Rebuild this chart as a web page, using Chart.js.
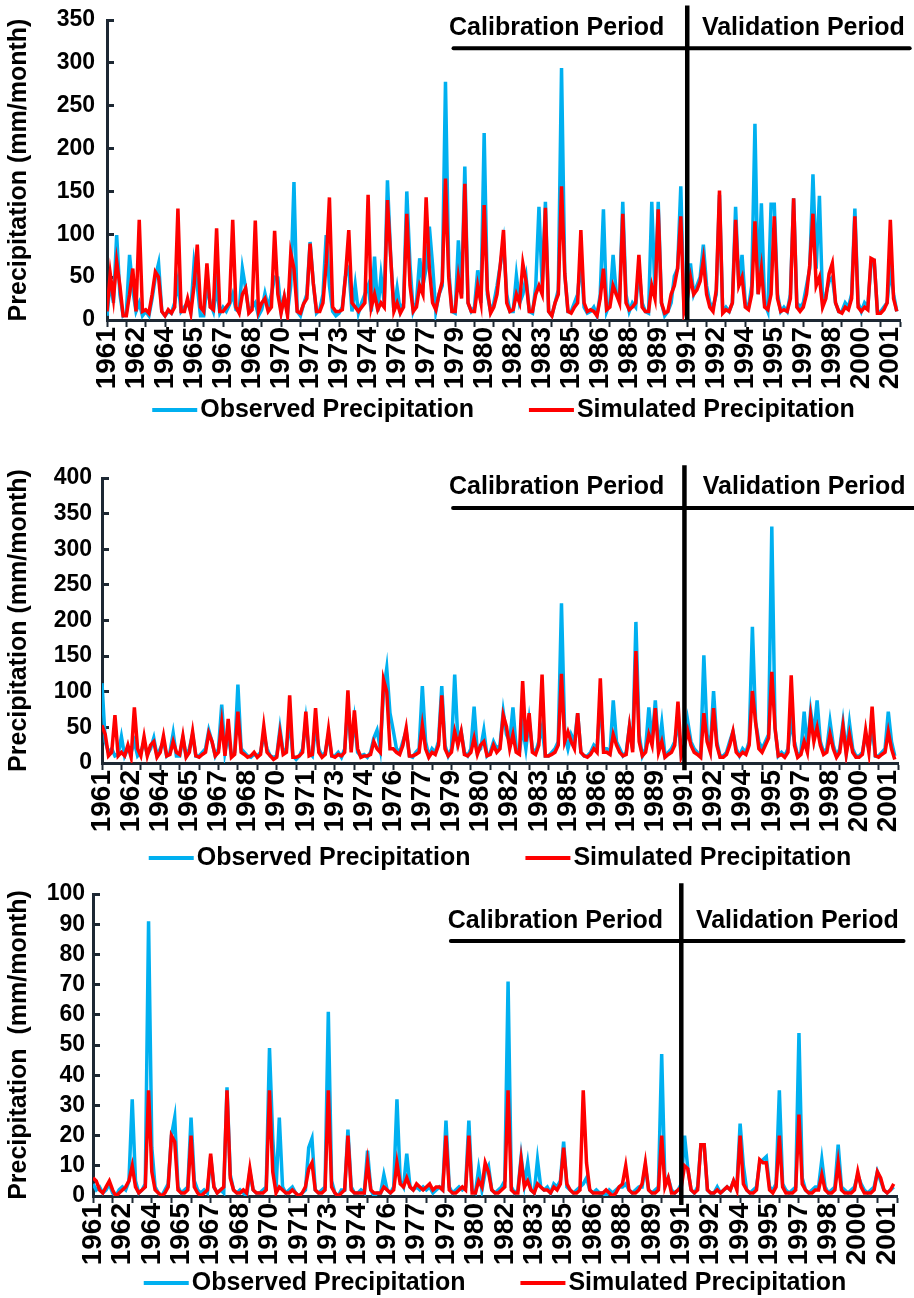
<!DOCTYPE html>
<html>
<head>
<meta charset="utf-8">
<script src="https://cdn.jsdelivr.net/npm/chart.js@4.4.1/dist/chart.umd.min.js"></script>
<style>
  html, body { margin: 0; padding: 0; background: #fff; }
  body { width: 914px; height: 1298px; position: relative; overflow: hidden; }
  .panel { position: absolute; left: 0; width: 914px; }
</style>
</head>
<body>
<div class="panel" style="top:0;height:445px"><canvas id="chart-a"></canvas></div>
<div class="panel" style="top:445px;height:430px"><canvas id="chart-b"></canvas></div>
<div class="panel" style="top:875px;height:423px"><canvas id="chart-c"></canvas></div>
<script>
// Labels shown every 18 months on the x axis
const yearLabels = ['1961', '1962', '1964', '1965', '1967', '1968', '1970', '1971', '1973', '1974',
    '1976', '1977', '1979', '1980', '1982', '1983', '1985', '1986', '1988', '1989',
    '1991', '1992', '1994', '1995', '1997', '1998', '2000', '2001'];

// Values, one value per two months, one row per year (1961-2001)
const observedA = [
    5, 45, 20, 99, 30, 5,   8, 76, 35, 10, 20, 5,   10, 5, 25, 50, 66, 10,   5, 10, 8, 20, 45, 10,
    15, 20, 10, 66, 40, 5,   5, 40, 20, 10, 40, 8,   15, 10, 18, 30, 12, 10,   60, 37, 10, 15, 20, 5,
    12, 31, 15, 30, 50, 49,   10, 27, 8, 40, 161, 10,   5, 19, 30, 91, 43, 8,   12, 30, 99, 40, 10, 5,
    8, 15, 52, 60, 10, 41,   8, 20, 30, 40, 10, 74,   10, 52, 20, 163, 74, 10,   37, 10, 20, 150, 64, 10,
    20, 72, 40, 60, 109, 64,   10, 30, 40, 278, 60, 10,   8, 93, 30, 179, 20, 10,   15, 58, 20, 218, 30, 10,
    20, 40, 64, 90, 30, 10,   10, 52, 20, 30, 50, 10,   8, 39, 132, 40, 138, 10,   5, 20, 35, 294, 54, 10,
    10, 20, 30, 70, 15, 8,   10, 15, 5, 30, 129, 10,   20, 76, 30, 25, 138, 30,   10, 20, 15, 60, 20, 10,
    8, 138, 30, 138, 20, 5,   10, 20, 51, 60, 156, 10,   20, 66, 30, 40, 50, 88,   40, 20, 15, 30, 146, 10,
    15, 10, 20, 132, 40, 76,   20, 15, 40, 229, 30, 136,   20, 10, 135, 135, 30, 10,   15, 10, 30, 142, 20, 15,
    20, 40, 60, 170, 60, 145,   20, 30, 45, 50, 20, 10,   10, 20, 15, 30, 130, 20,   10, 20, 15, 65, 68, 10,
    10, 15, 20, 60, 30, 10
];
const simulatedA = [
    10, 54, 25, 68, 40, 5,   5, 30, 60, 10, 117, 10,   12, 8, 30, 56, 50, 10,   5, 12, 8, 15, 130, 10,
    10, 25, 8, 40, 88, 15,   10, 66, 15, 12, 107, 10,   10, 15, 20, 117, 15, 8,   30, 37, 8, 12, 116, 10,
    20, 25, 10, 15, 104, 30,   8, 27, 5, 78, 60, 10,   8, 19, 25, 89, 43, 10,   10, 20, 66, 143, 15, 10,
    10, 12, 52, 105, 20, 15,   10, 15, 20, 146, 15, 30,   12, 20, 15, 140, 74, 10,   20, 8, 15, 124, 40, 10,
    15, 40, 30, 143, 60, 20,   12, 30, 45, 165, 50, 10,   10, 50, 25, 159, 20, 10,   10, 40, 20, 134, 35, 8,
    15, 30, 64, 105, 20, 10,   12, 30, 20, 66, 45, 10,   10, 30, 40, 30, 131, 10,   5, 20, 30, 156, 54, 10,
    8, 15, 20, 105, 20, 10,   12, 10, 5, 25, 60, 12,   15, 40, 30, 20, 124, 20,   12, 15, 20, 76, 15, 10,
    10, 40, 25, 129, 20, 8,   10, 30, 40, 60, 121, 10,   25, 50, 30, 35, 45, 70,   30, 15, 10, 35, 151, 8,
    12, 10, 20, 117, 40, 50,   15, 12, 30, 115, 30, 60,   15, 12, 30, 121, 25, 10,   12, 10, 25, 142, 15, 10,
    15, 30, 64, 124, 40, 50,   15, 25, 54, 66, 20, 10,   8, 15, 12, 25, 121, 15,   10, 15, 12, 72, 70, 8,
    8, 12, 20, 117, 25, 10
];

const observedB = [
    112, 30, 15, 20, 10, 12,   37, 10, 20, 15, 30, 10,   15, 30, 12, 20, 35, 10,   20, 30, 10, 15, 42, 10,
    10, 35, 10, 20, 40, 10,   10, 15, 20, 46, 30, 10,   20, 82, 15, 40, 10, 15,   110, 20, 15, 10, 8, 12,
    10, 15, 40, 20, 10, 8,   10, 48, 15, 20, 60, 10,   5, 10, 20, 60, 15, 10,   50, 20, 10, 15, 40, 10,
    10, 15, 8, 20, 80, 20,   60, 15, 10, 12, 8, 15,   35, 46, 20, 100, 133, 70,   46, 20, 15, 30, 45, 10,
    8, 15, 20, 108, 30, 10,   20, 15, 30, 108, 25, 10,   20, 124, 30, 44, 15, 10,   20, 79, 15, 20, 46, 10,
    15, 30, 20, 25, 72, 40,   30, 78, 20, 15, 50, 20,   60, 20, 15, 30, 50, 10,   10, 15, 20, 30, 224, 40,
    20, 40, 30, 70, 15, 10,   10, 15, 25, 20, 90, 20,   20, 15, 88, 30, 20, 10,   15, 51, 20, 198, 40, 10,
    20, 78, 30, 88, 20, 56,   10, 15, 20, 30, 60, 10,   20, 59, 30, 20, 15, 10,   151, 40, 20, 101, 30, 10,
    10, 15, 30, 44, 20, 10,   20, 15, 30, 191, 57, 30,   20, 30, 40, 332, 49, 10,   15, 10, 20, 60, 30, 10,
    15, 72, 20, 73, 40, 88,   30, 15, 20, 58, 25, 10,   20, 57, 15, 56, 20, 10,   10, 15, 40, 20, 50, 10,
    10, 15, 20, 72, 30, 10
];
const simulatedB = [
    53, 40, 10, 15, 67, 10,   15, 10, 25, 8, 78, 20,   10, 37, 10, 25, 30, 8,   15, 38, 10, 12, 30, 15,
    12, 38, 8, 15, 44, 10,   8, 12, 15, 42, 30, 10,   15, 56, 10, 62, 8, 12,   72, 15, 12, 8, 10, 15,
    8, 12, 52, 15, 10, 5,   8, 42, 12, 15, 95, 8,   8, 10, 15, 72, 10, 12,   77, 15, 8, 12, 47, 10,
    8, 12, 10, 15, 102, 15,   74, 20, 8, 10, 10, 12,   30, 20, 15, 117, 100, 20,   20, 15, 12, 25, 49, 10,
    10, 12, 15, 53, 20, 8,   15, 12, 25, 95, 20, 10,   15, 44, 25, 44, 12, 10,   15, 35, 12, 25, 30, 10,
    12, 25, 15, 20, 67, 51,   20, 40, 15, 12, 115, 30,   70, 15, 12, 25, 124, 10,   10, 12, 15, 25, 125, 30,
    44, 30, 20, 70, 15, 10,   8, 12, 20, 15, 119, 15,   15, 12, 40, 25, 15, 10,   12, 51, 15, 157, 30, 10,
    15, 40, 25, 77, 15, 30,   8, 12, 15, 25, 86, 10,   25, 45, 25, 15, 12, 8,   70, 30, 15, 77, 25, 8,
    8, 12, 25, 44, 15, 10,   15, 12, 25, 101, 57, 20,   15, 25, 35, 128, 49, 10,   12, 8, 15, 123, 25, 8,
    12, 30, 15, 65, 30, 50,   25, 12, 15, 40, 20, 8,   15, 51, 12, 40, 15, 8,   8, 12, 46, 15, 79, 10,
    8, 12, 15, 44, 20, 5
];

const observedC = [
    4, 2, 3, 1, 2, 4,   1, 0, 2, 3, 2, 5,   32, 5, 1, 2, 4, 91,   16, 3, 1, 0, 2, 4,
    20, 26, 3, 1, 2, 3,   26, 5, 2, 1, 2, 1,   13, 3, 1, 2, 1, 36,   7, 2, 1, 2, 1, 0,
    8, 2, 1, 1, 2, 3,   49, 19, 2, 26, 3, 1,   2, 3, 1, 0, 1, 2,   16, 19, 2, 1, 2, 3,
    61, 5, 1, 0, 2, 2,   22, 3, 1, 1, 2, 1,   15, 2, 0, 1, 1, 7,   2, 1, 3, 32, 5, 3,
    14, 3, 2, 3, 2, 3,   2, 3, 1, 2, 3, 2,   25, 3, 1, 2, 3, 2,   3, 25, 2, 1, 9, 2,
    8, 10, 2, 1, 2, 3,   5, 71, 3, 1, 2, 13,   4, 11, 2, 1, 12, 3,   2, 3, 1, 4, 3, 5,
    18, 3, 2, 1, 2, 3,   4, 6, 2, 1, 2, 1,   1, 0, 2, 1, 2, 3,   3, 4, 2, 1, 2, 3,
    3, 10, 2, 1, 2, 3,   47, 4, 6, 2, 1, 2,   4, 20, 9, 2, 1, 3,   17, 17, 2, 1, 1, 3,
    1, 2, 3, 2, 5, 3,   24, 10, 2, 1, 2, 3,   11, 12, 13, 3, 2, 4,   35, 4, 2, 1, 2, 3,
    54, 6, 2, 1, 2, 3,   3, 12, 3, 1, 2, 3,   17, 3, 2, 1, 2, 3,   7, 4, 2, 1, 2, 3,
    8, 5, 2, 1, 2, 3
];
const simulatedC = [
    6, 5, 2, 1, 3, 5,   2, 0, 1, 2, 3, 5,   10, 3, 1, 2, 3, 35,   8, 2, 1, 0, 1, 3,
    20, 18, 2, 1, 1, 2,   20, 3, 1, 0, 1, 2,   14, 3, 1, 2, 3, 35,   6, 2, 1, 1, 2, 1,
    9, 2, 1, 1, 1, 2,   35, 8, 1, 3, 2, 1,   1, 2, 1, 0, 1, 3,   9, 11, 2, 1, 1, 2,
    35, 3, 1, 0, 1, 2,   20, 2, 1, 1, 1, 1,   11, 2, 1, 1, 1, 3,   2, 1, 2, 11, 4, 3,
    6, 3, 2, 4, 3, 2,   3, 4, 2, 3, 3, 2,   20, 2, 1, 1, 2, 3,   2, 20, 1, 1, 5, 3,
    11, 8, 2, 1, 1, 2,   3, 35, 2, 1, 1, 12,   3, 5, 2, 1, 4, 3,   2, 2, 1, 3, 2, 4,
    16, 4, 2, 1, 1, 2,   35, 11, 2, 1, 1, 1,   1, 2, 1, 0, 1, 3,   4, 10, 2, 1, 1, 2,
    4, 11, 2, 1, 1, 2,   20, 3, 6, 1, 1, 2,   3, 10, 9, 2, 1, 2,   17, 17, 2, 1, 1, 2,
    1, 2, 3, 2, 5, 2,   20, 4, 2, 1, 1, 2,   12, 11, 11, 2, 1, 3,   20, 3, 1, 1, 1, 2,
    27, 4, 2, 1, 1, 2,   2, 7, 2, 1, 1, 2,   11, 2, 1, 1, 1, 2,   8, 3, 1, 1, 1, 2,
    8, 6, 2, 1, 2, 4
];

const BLUE = '#00b0f0';
const RED = '#ff0000';
const AXIS = '#1d2833';
const FONT = "'Liberation Sans', Arial, sans-serif";
const MONTHS = 492; // Jan 1961 .. Dec 2001

Chart.defaults.font.family = FONT;
Chart.defaults.color = '#000';

// two-month readings placed on a month axis
function toPoints(values) {
    return values.map((v, i) => ({ x: i * 2, y: v }));
}

// Period split line, period bars and labels, and the legend row
const periodsPlugin = {
    id: 'periods',
    afterDraw(chart, args, opts) {
        const ctx = chart.ctx;
        const xs = chart.scales.x;
        const ys = chart.scales.y;
        const area = chart.chartArea;
        ctx.save();

        // vertical split between calibration and validation
        const splitX = xs.getPixelForValue(opts.split);
        ctx.strokeStyle = '#000';
        ctx.lineWidth = 4.5;
        ctx.beginPath();
        ctx.moveTo(splitX, ys.getPixelForValue(opts.top));
        ctx.lineTo(splitX, ys.getPixelForValue(opts.bottom));
        ctx.stroke();

        // horizontal bar under the period names
        const barY = ys.getPixelForValue(opts.bar);
        ctx.lineWidth = 4;
        ctx.lineCap = 'round';
        ctx.beginPath();
        ctx.moveTo(xs.getPixelForValue(opts.calStart), barY);
        ctx.lineTo(xs.getPixelForValue(opts.valEnd), barY);
        ctx.stroke();

        ctx.fillStyle = '#000';
        ctx.font = 'bold 25px ' + FONT;
        ctx.textAlign = 'center';
        ctx.textBaseline = 'middle';
        const textY = ys.getPixelForValue(opts.text);
        ctx.fillText('Calibration Period', xs.getPixelForValue(opts.calText), textY);
        ctx.fillText('Validation Period', xs.getPixelForValue(opts.valText), textY);

        // legend: short line then label, centred under the plot
        const legendY = area.bottom + opts.legendGap;
        ctx.textAlign = 'left';
        const dash = 45, textGap = 3, itemGap = 55;
        const items = chart.data.datasets.map(ds => ({
            label: ds.label,
            color: ds.borderColor,
            w: ctx.measureText(ds.label).width
        }));
        const total = items.reduce((s, it) => s + dash + textGap + it.w, 0) + itemGap * (items.length - 1);
        let cx = (area.left + area.right) / 2 - total / 2;
        items.forEach(it => {
            ctx.fillStyle = it.color;
            ctx.fillRect(cx, legendY - 2, dash, 4);
            cx += dash + textGap;
            ctx.fillStyle = '#000';
            ctx.fillText(it.label, cx, legendY);
            cx += it.w + itemGap;
        });
        ctx.restore();
    }
};

function buildChart(id, observed, simulated, cfg) {
    return new Chart(document.getElementById(id), {
        type: 'line',
        data: {
            datasets: [
                {
                    label: 'Observed Precipitation',
                    data: toPoints(observed),
                    borderColor: BLUE,
                    backgroundColor: BLUE,
                    borderWidth: 3.5,
                    pointRadius: 0,
                    tension: 0,
                    order: 1
                },
                {
                    label: 'Simulated Precipitation',
                    data: toPoints(simulated),
                    borderColor: RED,
                    backgroundColor: RED,
                    borderWidth: 3.5,
                    pointRadius: 0,
                    tension: 0,
                    order: 0
                }
            ]
        },
        options: {
            responsive: true,
            maintainAspectRatio: false,
            animation: false,
            layout: { padding: cfg.padding },
            plugins: {
                legend: { display: false },
                tooltip: { enabled: false },
                periods: cfg.periods
            },
            scales: {
                x: {
                    type: 'linear',
                    min: 0,
                    max: MONTHS,
                    afterBuildTicks(scale) {
                        scale.ticks = [];
                        for (let m = 0; m <= MONTHS; m += 6) scale.ticks.push({ value: m });
                    },
                    afterFit(scale) {
                        scale.height = 80;
                        scale.paddingLeft = 0;
                        scale.paddingRight = 0;
                    },
                    border: { display: true, color: AXIS, width: 3 },
                    grid: {
                        drawOnChartArea: false,
                        tickLength: 7,
                        tickWidth: 2,
                        tickColor: ctx => (ctx.tick && ctx.tick.value % 12 === 0) ? AXIS : 'rgba(0,0,0,0)'
                    },
                    ticks: {
                        autoSkip: false,
                        minRotation: 90,
                        maxRotation: 90,
                        padding: 0,
                        color: '#000',
                        font: { size: 28, weight: 'bold' },
                        callback: v => (v % 18 === 0 ? yearLabels[v / 18] : '')
                    }
                },
                y: {
                    min: 0,
                    max: cfg.yMax,
                    afterFit(scale) {
                        scale.width = cfg.yWidth;
                        scale.paddingTop = 0;
                        scale.paddingBottom = 0;
                    },
                    border: { display: true, color: AXIS, width: 3 },
                    grid: {
                        drawOnChartArea: false,
                        tickLength: -7,
                        tickWidth: 3,
                        tickColor: AXIS
                    },
                    ticks: {
                        stepSize: cfg.yStep,
                        autoSkip: false,
                        padding: cfg.tickPad,
                        color: '#000',
                        font: { size: 23, weight: 'bold' }
                    },
                    title: {
                        display: true,
                        text: cfg.title,
                        color: '#000',
                        font: { size: 25, weight: 'bold' },
                        padding: { top: 4, bottom: 4 }
                    }
                }
            }
        },
        plugins: [periodsPlugin]
    });
}

buildChart('chart-a', observedA, simulatedA, {
    yMax: 350, yStep: 50, yWidth: 107, tickPad: 19,
    title: 'Precipitation (mm/month)',
    padding: { top: 20, right: 14, bottom: 45, left: 0 },
    periods: { split: 360, top: 367, bottom: 0, bar: 317, calStart: 215, valEnd: 498,
        text: 341, calText: 279, valText: 432, legendGap: 90 }
});

buildChart('chart-b', observedB, simulatedB, {
    yMax: 400, yStep: 50, yWidth: 102, tickPad: 17,
    title: 'Precipitation (mm/month)',
    padding: { top: 33, right: 16, bottom: 32, left: 0 },
    periods: { split: 360, top: 418, bottom: -10, bar: 358, calStart: 217, valEnd: 502,
        text: 387, calText: 281, valText: 434, legendGap: 95 }
});

buildChart('chart-c', observedC, simulatedC, {
    yMax: 100, yStep: 10, yWidth: 93, tickPad: 15,
    title: 'Precipitation  (mm/month)',
    padding: { top: 19, right: 17, bottom: 22, left: 0 },
    periods: { split: 360, top: 103.6, bottom: -3, bar: 84.4, calStart: 219, valEnd: 496,
        text: 91, calText: 283, valText: 431, legendGap: 87 }
});
</script>
</body>
</html>
